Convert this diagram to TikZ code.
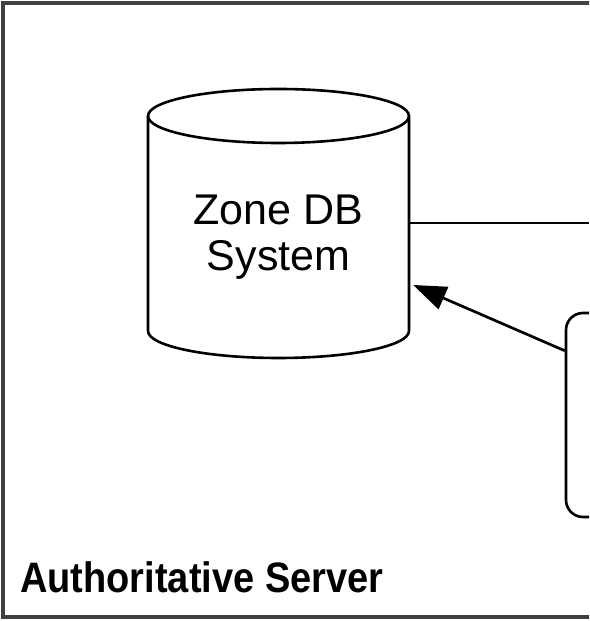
\documentclass[tikz,border=0pt]{standalone}
\usepackage{fontspec}
\setmainfont{Liberation Sans}
\usetikzlibrary{arrows.meta,calc}
\begin{document}
\begin{tikzpicture}[x=1pt,y=1pt,
  outline/.style={draw=black, line width=2.6pt},
  frame/.style={draw=black!75, line width=4pt},
  conn/.style={draw=black, line width=2.7pt},
  arrowconn/.style={conn, -{Triangle[length=33pt,width=24pt]}},
  procbox/.style={outline, rounded corners=17pt, minimum width=140pt, minimum height=204pt},
  dblabel/.style={inner sep=0pt, align=center, font=\fontsize{43}{46}\selectfont},
  serverlabel/.style={inner sep=0pt, anchor=base west, font=\fontsize{38}{44}\selectfont\bfseries}]
\useasboundingbox (0,0) rectangle (589,621);
\clip (0,0) rectangle (589,621);

% server boundary (continues past the right edge)
\draw[frame] (3,4) rectangle (640,618);

% cylinder: Zone DB System
\coordinate (tl) at (148,505);
\coordinate (tr) at (409,505);
\coordinate (bl) at (148,290);
\coordinate (br) at (409,290);
\draw[outline] (278.5,505) ellipse [x radius=130.5, y radius=27];
\draw[outline] (tl) -- (bl) arc[start angle=180, end angle=360, x radius=130.5, y radius=27] -- (tr);
\node[minimum width=261pt, minimum height=215pt, inner sep=0pt] (db) at (278.5,397.5) {};
\node[dblabel] (dbtext) at (278.5,384) {Zone DB\\System};

% right-hand process box (cut off by the page edge)
\node[procbox] (proc) at (636,206) {};

% connectors
\coordinate (edge) at (589,398);
\draw[conn] (db.east |- edge) -- (edge);
\coordinate (tail) at ($(proc.north west)+(0,-39)$);
\coordinate (tip) at ($(db.east)+(4,-61.5)$);
\draw[arrowconn] (tail) -- (tip);

\node[serverlabel] (server) at (20,28) {\scalebox{1}[1.12]{Authoritative Server}};
\end{tikzpicture}
\end{document}
